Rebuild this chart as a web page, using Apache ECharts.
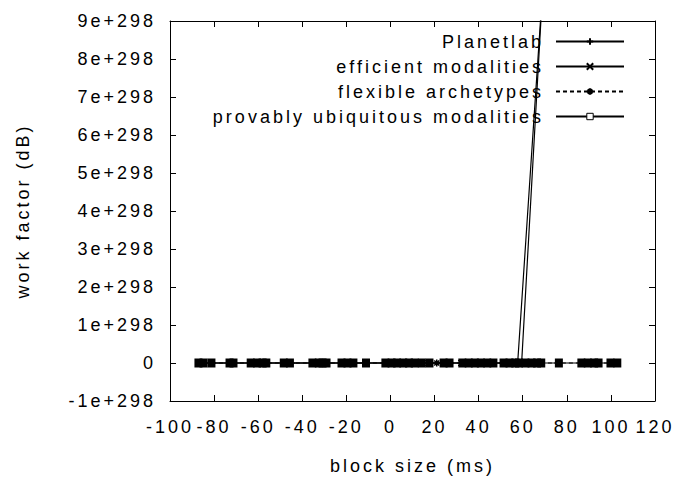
<!DOCTYPE html>
<html>
<head>
<meta charset="utf-8">
<script src="https://cdn.jsdelivr.net/npm/echarts@6/dist/echarts.min.js"></script>
<style>
html,body{margin:0;padding:0;background:#fff}
#c{width:680px;height:480px}
#c svg text{letter-spacing:3px}
</style>
</head>
<body>
<div id="c"></div>
<script>
// y values are in units of 1e298
const Y_UNIT_EXP = 298;
const xTicks = [-100, -80, -60, -40, -20, 0, 20, 40, 60, 80, 100, 120];
const yTicks = [-1, 0, 1, 2, 3, 4, 5, 6, 7, 8, 9];
const seriesNames = ['Planetlab', 'efficient modalities', 'flexible archetypes', 'provably ubiquitous modalities'];

const planetlabX = [-87, -73, -60, -45, -30, -16, -2, 14, 27, 41, 54, 57.7, 69.2];
const planetlabY = [0, 0, 0, 0, 0, 0, 0, 0, 0, 0, 0, 0, 10];

const efficientX = [-85, -71, -56, -35, -19, -11, 3, 17, 32, 46, 59.5, 69.2];
const efficientY = [0, 0, 0, 0, 0, 0, 0, 0, 0, 0, 0, 10];

const flexibleX = [-81, -63, -48, -29, 0.5, 8.4, 21, 24, 38, 51, 64, 76, 89, 99.8];
const flexibleY = [0, 0, 0, 0, 0, 0, 0, 0, 0, 0, 0, 0, 0, 0];

const provablyX = [-87.1, -84.8, -81.2, -73, -71.2, -63.4, -60.5, -58, -56.3, -48.4, -45.6,
  -35.4, -32.5, -30.8, -29, -22.2, -19.5, -16.8, -11.1, -2.3, 0.5, 3, 5.8, 8.4, 11, 14.2, 17.7,
  24.1, 26.8, 32.6, 35.5, 38.3, 41, 43.9, 46.7, 51.3, 54, 56.6, 58.3, 61.2, 64, 66.5, 68.4,
  76.4, 86.6, 89.5, 92.4, 94.4, 99.8, 102.9];
const provablyY = provablyX.map(() => 0);

function pairs(xs, ys) { return xs.map((x, i) => [x, ys[i]]); }

const FONT = 'Liberation Sans';
const FS = 18;
const plusPath = 'path://M0,5L10,5M5,0L5,10';
const crossPath = 'path://M0,0L10,10M10,0L0,10';
const starPath = 'path://M0,5L10,5M5,0L5,10M1.5,1.5L8.5,8.5M8.5,1.5L1.5,8.5';

const chart = echarts.init(document.getElementById('c'), null, {renderer: 'svg'});
const axisTick = {inside: true, length: 6, lineStyle: {color: '#000', width: 1}};
const axisLine = {show: true, onZero: false, lineStyle: {color: '#000', width: 1}};
const fmtY = v => v === 0 ? '0' : (v + 'e+' + Y_UNIT_EXP);

chart.setOption({
  animation: false,
  backgroundColor: '#fff',
  textStyle: {fontFamily: FONT},
  grid: {left: 170, right: 25, top: 21, bottom: 79, containLabel: false},
  legend: {
    orient: 'vertical',
    right: 50,
    top: 27.5,
    align: 'right',
    itemWidth: 68,
    itemHeight: 8,
    itemGap: 7,
    textStyle: {fontFamily: FONT, fontSize: FS, color: '#000', lineHeight: 18, padding: [0, 7, 0, 0]},
    data: [
      {name: seriesNames[0]},
      {name: seriesNames[1]},
      {name: seriesNames[2]},
      {name: seriesNames[3], itemStyle: {color: '#fff', borderColor: '#000', borderWidth: 1}}
    ]
  },
  xAxis: [{
    type: 'value', min: xTicks[0], max: xTicks[xTicks.length - 1], interval: 20,
    name: 'block size (ms)', nameLocation: 'middle', nameGap: 56,
    nameTextStyle: {fontFamily: FONT, fontSize: FS, color: '#000'},
    axisLine, axisTick, splitLine: {show: false},
    axisLabel: {fontFamily: FONT, fontSize: FS, color: '#000', margin: 17}
  }, {
    type: 'value', position: 'top', min: xTicks[0], max: xTicks[xTicks.length - 1], interval: 20,
    axisLine, axisTick, splitLine: {show: false}, axisLabel: {show: false}
  }],
  yAxis: [{
    type: 'value', min: yTicks[0], max: yTicks[yTicks.length - 1], interval: 1,
    name: 'work factor (dB)', nameLocation: 'middle', nameGap: 138, nameRotate: 90,
    nameTextStyle: {fontFamily: FONT, fontSize: FS, color: '#000'},
    axisLine, axisTick, splitLine: {show: false},
    axisLabel: {fontFamily: FONT, fontSize: FS, color: '#000', margin: 14, formatter: fmtY}
  }, {
    type: 'value', position: 'right', min: yTicks[0], max: yTicks[yTicks.length - 1], interval: 1,
    axisLine, axisTick, splitLine: {show: false}, axisLabel: {show: false}
  }],
  series: [
    {
      name: seriesNames[0], type: 'line', data: pairs(planetlabX, planetlabY),
      symbol: plusPath, symbolSize: 7, showAllSymbol: true,
      lineStyle: {color: '#000', width: 1.2},
      itemStyle: {color: '#000', borderColor: '#000', borderWidth: 1}
    },
    {
      name: seriesNames[1], type: 'line', data: pairs(efficientX, efficientY),
      symbol: crossPath, symbolSize: 6, showAllSymbol: true,
      lineStyle: {color: '#000', width: 1.2},
      itemStyle: {color: '#000', borderColor: '#000', borderWidth: 1}
    },
    {
      name: seriesNames[2], type: 'line', data: pairs(flexibleX, flexibleY),
      symbol: starPath, symbolSize: 7, showAllSymbol: true,
      lineStyle: {color: '#000', width: 1, type: [4, 3]},
      itemStyle: {color: '#000', borderColor: '#000', borderWidth: 1.5}
    },
    {
      name: seriesNames[3], type: 'line', data: pairs(provablyX, provablyY),
      symbol: 'rect', symbolSize: [8, 9], showAllSymbol: true,
      lineStyle: {color: '#000', width: 1},
      itemStyle: {color: '#000', borderColor: '#000', borderWidth: 0}
    }
  ]
});
</script>
</body>
</html>
